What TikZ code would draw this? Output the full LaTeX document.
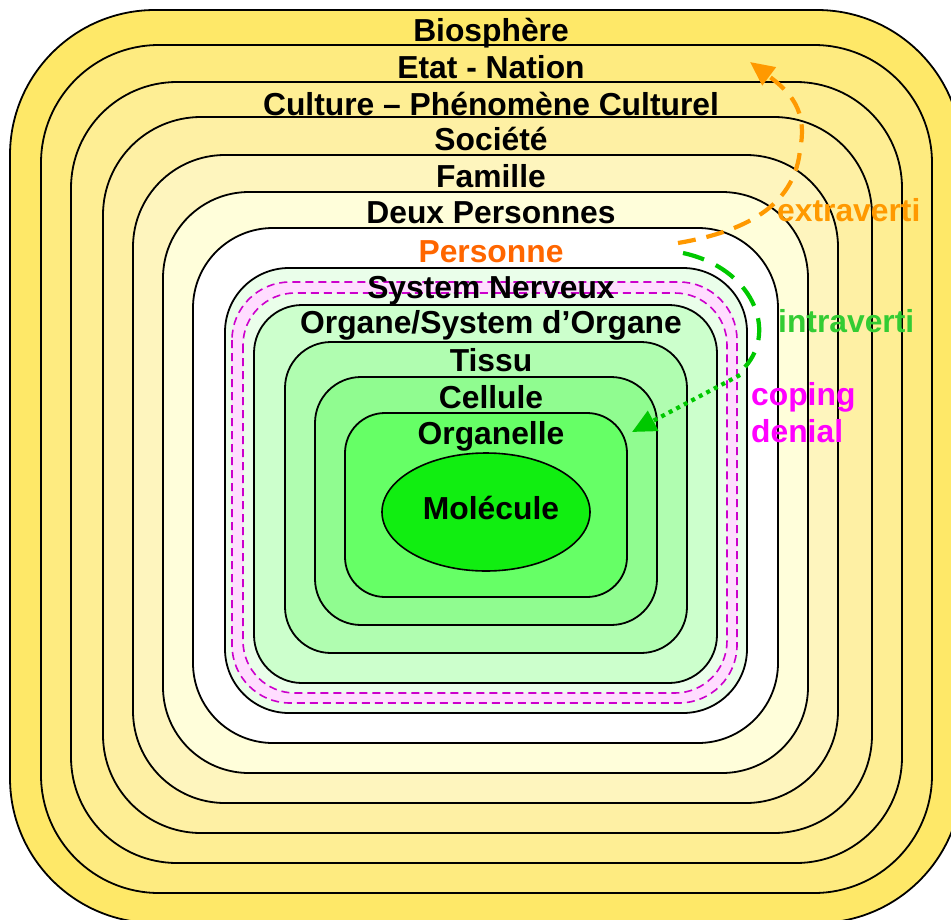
\documentclass[tikz,border=0pt]{standalone}
\usepackage{fontspec}
\setmainfont{Liberation Sans}
\usetikzlibrary{arrows.meta}
% fills of the nested levels, from the outside in
\definecolor{cBio}{HTML}{FEE868}
\definecolor{cEtat}{HTML}{FEEB80}
\definecolor{cCult}{HTML}{FEEE94}
\definecolor{cSoc}{HTML}{FEF0A4}
\definecolor{cFam}{HTML}{FEF5BE}
\definecolor{cDeux}{HTML}{FFFEDA}
\definecolor{cPers}{HTML}{FFFFFF}
\definecolor{cNerv}{HTML}{EAFEEA}
\definecolor{cCoping}{HTML}{FFDDFF}
\definecolor{cOrgane}{HTML}{CCFFCC}
\definecolor{cTissu}{HTML}{B0FDB0}
\definecolor{cCell}{HTML}{90FC90}
\definecolor{cOrgl}{HTML}{66FF66}
\definecolor{cMol}{HTML}{11EE11}
% text and arrow colours
\definecolor{cOrange}{HTML}{FF6600}
\definecolor{cExtra}{HTML}{FF9900}
\definecolor{cIntra}{HTML}{33CC33}
\definecolor{cGreenArrow}{HTML}{00C800}
\definecolor{cMagenta}{HTML}{FF00FF}
\definecolor{cMagDash}{HTML}{CC00CC}
\begin{document}
\begin{tikzpicture}[x=1pt,y=-1pt,
  ring/.style={draw=black, line width=1.8pt, fill=#1},
  copingline/.style={draw=cMagDash, line width=1.6pt, dash pattern=on 8pt off 5pt, fill=#1},
  lbl/.style={anchor=base, inner sep=0pt, font=\fontsize{31.8}{31.8}\selectfont\bfseries},
  side/.style={anchor=base west, inner sep=0pt, font=\fontsize{31.8}{31.8}\selectfont\bfseries},
  flow/.style={line width=4.2pt, -{Triangle[length=24pt,width=22pt]}}]
\useasboundingbox (0,0) rectangle (951,919);
\clip (0,0) rectangle (951,919);

% nested levels
\draw[ring=cBio,   rounded corners=145pt] (10,10)  rectangle (962,923);
\draw[ring=cEtat,  rounded corners=118pt] (41,45)  rectangle (932,893);
\draw[ring=cCult,  rounded corners=106pt] (71,82)  rectangle (902,863);
\draw[ring=cSoc,   rounded corners=98pt]  (103,117) rectangle (872,833);
\draw[ring=cFam,   rounded corners=92pt]  (133,155) rectangle (838,803);
\draw[ring=cDeux,  rounded corners=86pt]  (163,192) rectangle (808,773);
\draw[ring=cPers,  rounded corners=80pt]  (193,228) rectangle (778,743);
\draw[ring=cNerv,  rounded corners=64pt]  (225,268) rectangle (747,713);
% coping / denial band inside the nervous system
\path[copingline=cCoping, rounded corners=58pt] (232,282) rectangle (737,703);
\path[copingline=cNerv,   rounded corners=52pt] (243,293) rectangle (727,693);
\draw[ring=cOrgane, rounded corners=48pt] (254,305) rectangle (717,683);
\draw[ring=cTissu,  rounded corners=46pt] (285,342) rectangle (687,653);
\draw[ring=cCell,   rounded corners=46pt] (315,377) rectangle (657,625);
\draw[ring=cOrgl,   rounded corners=40pt] (345,413) rectangle (627,597);
\draw[fill=cMol, draw=black, line width=1.6pt] (486,512) ellipse [x radius=104pt, y radius=59pt];

% level labels
\node[lbl] (bio)    at (491,41)  {Biosphère};
\node[lbl] (etat)   at (491,78)  {Etat - Nation};
\node[lbl] (cult)   at (491,115) {Culture – Phénomène Culturel};
\node[lbl] (soc)    at (491,150) {Société};
\node[lbl] (fam)    at (491,187) {Famille};
\node[lbl] (deux)   at (491,223) {Deux Personnes};
\node[lbl, text=cOrange] (pers) at (491,262) {Personne};
\node[lbl] (nerv)   at (491,298) {System Nerveux};
\node[lbl] (organe) at (491,333) {Organe/System d’Organe};
\node[lbl] (tissu)  at (491,371) {Tissu};
\node[lbl] (cell)   at (491,408) {Cellule};
\node[lbl] (orgl)   at (491,444) {Organelle};
\node[lbl] (mol)    at (491,519) {Molécule};

% side labels
\node[side, text=cExtra]   (extra)  at (777,221) {extraverti};
\node[side, text=cIntra]   (intra)  at (778,332) {intraverti};
\node[side, text=cMagenta] (coping) at (751,405) {coping};
\node[side, text=cMagenta] (denial) at (751,442) {denial};

% arrow end points
\coordinate (exStart) at (678,243);
\coordinate (exMid)   at (800,150);
\coordinate (exEnd)   at (750,62);
\coordinate (inStart) at (683,253);
\coordinate (inTurn)  at (745,367);
\coordinate (inFrom)  at (740,375);
\coordinate (inEnd)   at (632,432);

% outward and inward arrows
\draw[flow, cExtra, dash pattern=on 18pt off 11pt]
  (exStart) .. controls (755,230) and (795,200) .. (exMid)
            .. controls (808,110) and (790,92) .. (exEnd);
\draw[cGreenArrow, line width=4.2pt, dash pattern=on 22pt off 13pt]
  (inStart) .. controls (752,268) and (778,330) .. (inTurn);
\draw[flow, cGreenArrow, dash pattern=on 4pt off 4.5pt] (inFrom) -- (inEnd);
\end{tikzpicture}
\end{document}
